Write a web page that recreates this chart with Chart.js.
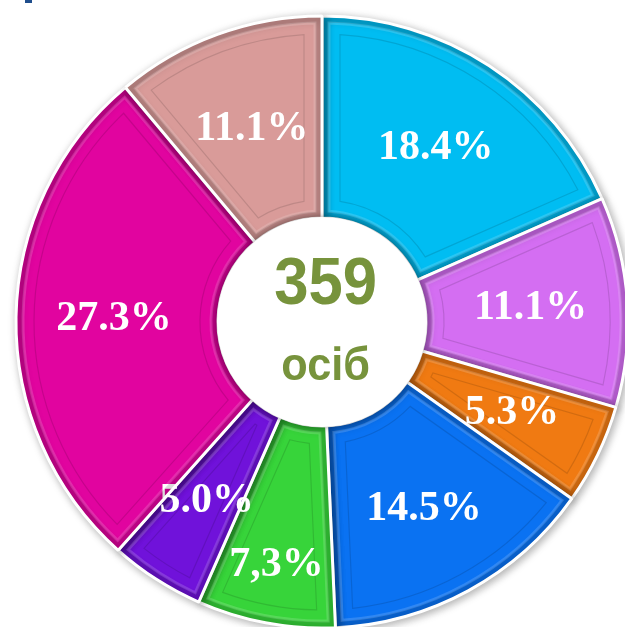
<!DOCTYPE html>
<html>
<head>
<meta charset="utf-8">
<script src="https://cdn.jsdelivr.net/npm/chart.js@4"></script>
<style>
  html, body { margin: 0; padding: 0; background: #fff; }
  body { width: 625px; height: 627px; overflow: hidden; position: relative; }
  #wrap { position: absolute; left: -8px; top: -8px; width: 660px; height: 660px; }
  #mark { position: absolute; left: 25px; top: 0; width: 7px; height: 3px; background: #1F4E8C; }
</style>
</head>
<body>
<div id="wrap"><canvas id="ringChart" width="660" height="660"></canvas></div>
<div id="mark"></div>
<script>
// shares of people, clockwise from the top
const groups = ['A', 'B', 'C', 'D', 'E', 'F', 'G', 'H'];
const shares = [18.4, 11.1, 5.3, 14.5, 7.3, 5.0, 27.3, 11.1];
const shareText = ['18.4%', '11.1%', '5.3%', '14.5%', '7,3%', '5.0%', '27.3%', '11.1%'];
const totalPeople = 359;
const totalWord = 'осіб';

const colors = ['#00BDF2', '#D46EF2', '#F07A12', '#0A72F2', '#37D43A', '#7012DA', '#E1049F', '#D99B99'];
const labelShift = [3, 4, 6, 8, 42, 8, 3, 0]; // push some labels outward a bit

function insetPath(ctx, a, d) {
  var r0 = a.innerRadius + d, r1 = a.outerRadius - d;
  var t1 = Math.asin(Math.min(d / r1, 1)), t0 = Math.asin(Math.min(d / r0, 1));
  ctx.beginPath();
  ctx.arc(a.x, a.y, r1, a.startAngle + t1, a.endAngle - t1);
  ctx.arc(a.x, a.y, r0, a.endAngle - t0, a.startAngle + t0, true);
  ctx.closePath();
}

const ringDeco = {
  id: 'ringDeco',
  beforeDatasetsDraw(chart) {
    const ctx = chart.ctx;
    ctx.save();
    ctx.shadowColor = 'rgba(0,0,0,0.3)';
    ctx.shadowBlur = 8;
    ctx.shadowOffsetX = 2;
    ctx.shadowOffsetY = 2;
  },
  afterDatasetsDraw(chart) {
    const ctx = chart.ctx;
    ctx.restore();
    const arcs = chart.getDatasetMeta(0).data;
    arcs.forEach(function(el, i) {
      const a = el.getProps(['x', 'y', 'startAngle', 'endAngle', 'innerRadius', 'outerRadius'], true);
      ctx.save();
      // bevel: darker edge band inside the slice, then a light step and a faint panel line
      insetPath(ctx, a, 1.5);
      ctx.clip();
      insetPath(ctx, a, 1.5);
      ctx.lineWidth = 10;
      ctx.strokeStyle = 'rgba(0,0,0,0.14)';
      ctx.stroke();
      insetPath(ctx, a, 7);
      ctx.lineWidth = 3;
      ctx.strokeStyle = 'rgba(255,255,255,0.16)';
      ctx.stroke();
      insetPath(ctx, a, 18);
      ctx.lineWidth = 1.2;
      ctx.strokeStyle = 'rgba(0,0,0,0.12)';
      ctx.stroke();
      ctx.restore();

      // percentage labels
      const mid = (a.startAngle + a.endAngle) / 2;
      const r = (a.innerRadius + a.outerRadius) / 2 + labelShift[i];
      ctx.save();
      ctx.font = 'bold 42px "Liberation Serif", "Times New Roman", serif';
      ctx.fillStyle = '#ffffff';
      ctx.textAlign = 'center';
      ctx.textBaseline = 'middle';
      ctx.fillText(shareText[i], a.x + Math.cos(mid) * r, a.y + Math.sin(mid) * r);
      ctx.restore();
    });

    // white hole with soft shadow
    const a0 = arcs[0];
    ctx.save();
    ctx.beginPath();
    ctx.arc(a0.x, a0.y, a0.innerRadius + 1, 0, Math.PI * 2);
    ctx.fillStyle = '#ffffff';
    ctx.shadowColor = 'rgba(0,0,0,0.4)';
    ctx.shadowBlur = 6;
    ctx.fill();
    ctx.restore();

    ctx.save();
    ctx.fillStyle = '#77933C';
    ctx.textAlign = 'center';
    ctx.textBaseline = 'alphabetic';
    ctx.translate(a0.x, a0.y);
    ctx.scale(0.92, 1);
    ctx.font = 'bold 67px "Liberation Sans", Arial, sans-serif';
    ctx.fillText(String(totalPeople), 4, -18);
    ctx.font = 'bold 47px "Liberation Sans", Arial, sans-serif';
    ctx.fillText(totalWord, 4, 58);
    ctx.restore();
  }
};

new Chart(document.getElementById('ringChart'), {
  type: 'doughnut',
  data: {
    labels: groups,
    datasets: [{
      data: shares,
      backgroundColor: colors,
      borderColor: '#ffffff',
      borderWidth: 3,
      hoverOffset: 0
    }]
  },
  options: {
    responsive: false,
    animation: false,
    radius: 306,
    cutout: '34%',
    rotation: 0,
    plugins: {
      legend: { display: false },
      tooltip: { enabled: false }
    }
  },
  plugins: [ringDeco]
});
</script>
</body>
</html>
